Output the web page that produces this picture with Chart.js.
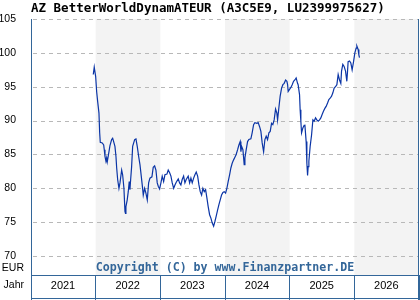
<!DOCTYPE html>
<html>
<head>
<meta charset="utf-8">
<script src="https://cdn.jsdelivr.net/npm/chart.js@4/dist/chart.umd.min.js"></script>
<style>
    html, body { margin: 0; padding: 0; background: #ffffff; }
    #chartBox { width: 420px; height: 300px; }
</style>
</head>
<body>
<div id="chartBox"><canvas id="fundChart"></canvas></div>
<script>
// time position as decimal year, value in EUR
const dateYears = [
    2021.963, 2021.978, 2022.000, 2022.015, 2022.031, 2022.051, 2022.062, 2022.071, 2022.102, 2022.124,
    2022.133, 2022.144, 2022.159, 2022.170, 2022.179, 2022.195, 2022.221, 2022.247, 2022.263, 2022.278,
    2022.298, 2022.314, 2022.325, 2022.340, 2022.360, 2022.376, 2022.402, 2022.417, 2022.437, 2022.453,
    2022.461, 2022.468, 2022.488, 2022.504, 2022.519, 2022.530, 2022.541, 2022.556, 2022.572, 2022.603,
    2022.623, 2022.643, 2022.665, 2022.685, 2022.705, 2022.726, 2022.736, 2022.757, 2022.777, 2022.798,
    2022.819, 2022.839, 2022.870, 2022.890, 2022.912, 2022.932, 2022.952, 2022.968, 2022.989, 2023.009,
    2023.029, 2023.051, 2023.071, 2023.102, 2023.122, 2023.144, 2023.164, 2023.184, 2023.206, 2023.226,
    2023.246, 2023.277, 2023.298, 2023.318, 2023.338, 2023.360, 2023.380, 2023.400, 2023.431, 2023.453,
    2023.473, 2023.493, 2023.515, 2023.535, 2023.555, 2023.577, 2023.597, 2023.617, 2023.638, 2023.658,
    2023.679, 2023.700, 2023.720, 2023.740, 2023.762, 2023.782, 2023.802, 2023.824, 2023.844, 2023.864,
    2023.886, 2023.906, 2023.926, 2023.947, 2023.968, 2023.988, 2024.009, 2024.029, 2024.049, 2024.071,
    2024.091, 2024.111, 2024.133, 2024.153, 2024.173, 2024.195, 2024.215, 2024.235, 2024.246, 2024.257,
    2024.277, 2024.297, 2024.308, 2024.328, 2024.349, 2024.369, 2024.400, 2024.420, 2024.442, 2024.462,
    2024.493, 2024.513, 2024.535, 2024.555, 2024.575, 2024.597, 2024.617, 2024.637, 2024.658, 2024.679,
    2024.699, 2024.720, 2024.740, 2024.760, 2024.782, 2024.802, 2024.813, 2024.833, 2024.853, 2024.875,
    2024.895, 2024.915, 2024.937, 2024.957, 2024.968, 2024.977, 2024.998, 2025.019, 2025.039, 2025.060,
    2025.080, 2025.100, 2025.122, 2025.131, 2025.153, 2025.162, 2025.173, 2025.184, 2025.204, 2025.224,
    2025.235, 2025.255, 2025.266, 2025.277, 2025.286, 2025.297, 2025.317, 2025.339, 2025.359, 2025.379,
    2025.400, 2025.420, 2025.441, 2025.462, 2025.482, 2025.502, 2025.524, 2025.544, 2025.564, 2025.586,
    2025.606, 2025.626, 2025.648, 2025.668, 2025.688, 2025.709, 2025.730, 2025.750, 2025.771, 2025.791,
    2025.802, 2025.822, 2025.842, 2025.864, 2025.884, 2025.895, 2025.904, 2025.926, 2025.946, 2025.966,
    2025.988, 2026.008, 2026.028, 2026.039, 2026.059, 2026.070, 2026.080
];

const prices = [
    96.8, 97.9, 96.5, 94.3, 92.8, 91.1, 88.2, 86.8, 86.7, 86.4,
    85.7, 84.7, 84.0, 84.5, 83.9, 84.8, 86.3, 87.2, 87.4, 86.9,
    86.2, 84.7, 83.0, 81.3, 80.0, 80.8, 82.7, 82.0, 80.0, 76.6,
    76.3, 77.3, 78.3, 79.5, 81.0, 79.8, 81.3, 83.2, 86.2, 87.2,
    87.3, 86.2, 84.7, 83.5, 81.8, 80.0, 79.0, 80.0, 79.3, 78.3,
    80.8, 81.5, 81.7, 83.1, 83.3, 82.7, 80.8, 80.3, 79.9, 80.8,
    81.8, 81.0, 82.0, 82.1, 82.7, 82.3, 81.8, 80.8, 80.0, 80.5,
    80.9, 81.4, 80.8, 80.5, 81.3, 81.8, 80.8, 81.3, 81.8, 80.8,
    81.5, 80.8, 81.5, 82.0, 82.4, 81.8, 80.5, 79.5, 79.0, 80.0,
    79.5, 79.8, 78.6, 77.3, 76.1, 75.6, 74.9, 74.4, 75.1, 75.9,
    76.8, 77.6, 78.3, 79.0, 79.4, 79.5, 79.3, 80.0, 81.0, 82.0,
    83.0, 83.7, 84.2, 84.6, 85.0, 85.7, 86.4, 86.9, 85.4, 86.2,
    85.7, 83.5, 84.5, 85.7, 86.9, 87.2, 87.3, 88.2, 89.4, 89.7,
    89.6, 89.7, 89.1, 88.4, 86.7, 85.4, 87.2, 87.7, 87.2, 88.2,
    88.4, 89.6, 89.4, 90.1, 91.7, 91.1, 90.1, 91.9, 93.6, 94.8,
    95.3, 95.5, 96.0, 95.8, 95.3, 94.3, 94.6, 94.9, 95.3, 95.8,
    96.0, 96.3, 95.5, 95.3, 93.8, 91.6, 89.9, 88.2, 88.9, 89.3,
    89.4, 86.9, 83.7, 81.9, 83.2, 84.0, 86.2, 87.9, 90.1, 89.9,
    90.4, 90.1, 89.9, 90.1, 90.4, 90.9, 91.4, 91.8, 92.1, 92.6,
    93.1, 93.3, 93.6, 94.1, 94.8, 95.0, 95.3, 96.8, 96.0, 95.5,
    97.3, 98.3, 98.0, 97.3, 95.8, 97.3, 98.7, 98.8, 98.5, 97.5,
    98.7, 100.0, 100.7, 101.0, 100.5, 99.7, 99.3
];

const yearTicks = [2021, 2022, 2023, 2024, 2025, 2026, 2027];
const shadedYears = [2022, 2024, 2026];
const valueTicks = [70, 75, 80, 85, 90, 95, 100, 105];

const titleText = "AZ BetterWorldDynamATEUR (A3C5E9, LU2399975627)";
const copyrightText = "Copyright (C) by www.Finanzpartner.DE";

const frameColor = "#336699";
const lineColor = "#0b35a6";

const chartDecor = {
    id: "chartDecor",
    beforeDraw(chart) {
        const { ctx, chartArea, scales } = chart;
        ctx.save();
        ctx.fillStyle = "#ffffff";
        ctx.fillRect(0, 0, chart.width, chart.height);
        ctx.fillStyle = "#f3f3f3";
        shadedYears.forEach(year => {
            const x1 = scales.x.getPixelForValue(year);
            const x2 = scales.x.getPixelForValue(year + 1);
            ctx.fillRect(x1, chartArea.top, x2 - x1, chartArea.bottom - chartArea.top);
        });
        ctx.restore();
    },
    beforeDatasetsDraw(chart) {
        const { ctx, chartArea, scales } = chart;
        // dashed value grid
        ctx.save();
        ctx.strokeStyle = "#b8b8b8";
        ctx.lineWidth = 1;
        ctx.setLineDash([4, 4]);
        valueTicks.forEach(v => {
            const y = Math.round(scales.y.getPixelForValue(v)) + 0.5;
            ctx.beginPath();
            ctx.moveTo(chartArea.left + 2, y);
            ctx.lineTo(chartArea.right, y);
            ctx.stroke();
        });
        ctx.restore();
    },
    afterDraw(chart) {
        const { ctx, chartArea } = chart;
        ctx.save();

        ctx.fillStyle = "#000000";
        ctx.font = 'bold 12.5px "DejaVu Sans Mono"';
        ctx.textAlign = "left";
        ctx.textBaseline = "middle";
        ctx.fillText(titleText, 31, 9);

        ctx.font = '10.5px "Liberation Sans"';
        ctx.textAlign = "right";
        ctx.fillText("EUR", 24, 268);
        ctx.fillText("Jahr", 24, 285);

        ctx.fillStyle = frameColor;
        ctx.font = 'bold 11.6px "DejaVu Sans Mono"';
        ctx.textAlign = "center";
        ctx.fillText(copyrightText, (chartArea.left + chartArea.right) / 2, 268);

        ctx.strokeStyle = frameColor;
        ctx.lineWidth = 1;
        ctx.beginPath();
        ctx.moveTo(chartArea.left + 0.5, chartArea.top);
        ctx.lineTo(chartArea.left + 0.5, chart.height);
        ctx.moveTo(chartArea.right - 0.5, chartArea.top);
        ctx.lineTo(chartArea.right - 0.5, chart.height);
        ctx.moveTo(chartArea.left, chart.height - 1.5);
        ctx.lineTo(chartArea.right, chart.height - 1.5);
        ctx.stroke();
        ctx.restore();
    }
};

new Chart(document.getElementById("fundChart"), {
    type: "line",
    data: {
        datasets: [{
            data: dateYears.map((year, i) => ({ x: year, y: prices[i] })),
            borderColor: lineColor,
            borderWidth: 1.2,
            pointRadius: 0,
            tension: 0,
            fill: false
        }]
    },
    options: {
        responsive: true,
        maintainAspectRatio: false,
        animation: false,
        events: [],
        layout: { padding: { top: 19, right: 1, left: 0, bottom: 0 } },
        plugins: {
            legend: { display: false },
            tooltip: { enabled: false },
            title: { display: false }
        },
        scales: {
            x: {
                type: "linear",
                min: 2021,
                max: 2027,
                afterBuildTicks: scale => {
                    scale.ticks = yearTicks.map(v => ({ value: v }));
                },
                afterFit: scale => { scale.height = 25; },
                grid: {
                    drawOnChartArea: false,
                    drawTicks: true,
                    tickLength: 25,
                    color: frameColor,
                    lineWidth: 1
                },
                border: { display: true, color: frameColor, width: 1 },
                ticks: {
                    autoSkip: false,
                    maxRotation: 0,
                    labelOffset: 32,
                    padding: -21,
                    color: "#000000",
                    font: { family: "Liberation Sans", size: 11 },
                    callback: value => (value < 2027 ? String(value) : "")
                }
            },
            y: {
                min: 67.2,
                max: 105,
                afterBuildTicks: scale => {
                    scale.ticks = valueTicks.map(v => ({ value: v }));
                },
                afterFit: scale => { scale.width = 31; },
                grid: { display: false },
                border: { display: false },
                ticks: {
                    padding: 7,
                    color: "#000000",
                    font: { family: "Liberation Sans", size: 10.5 }
                }
            }
        }
    },
    plugins: [chartDecor]
});
</script>
</body>
</html>
